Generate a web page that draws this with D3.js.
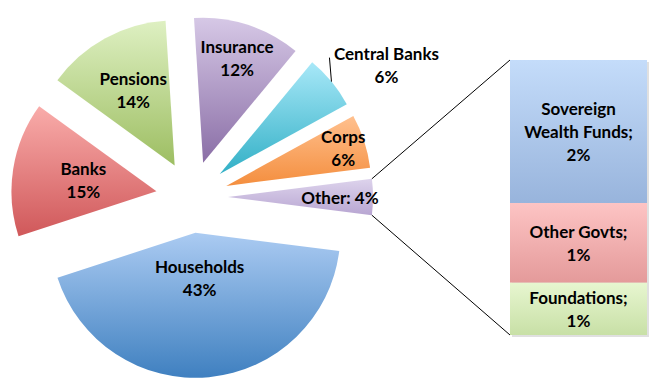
<!DOCTYPE html>
<html>
<head>
<meta charset="utf-8">
<script src="https://cdn.jsdelivr.net/npm/d3@7"></script>
<style>
  body { margin: 0; background: #fff; }
  text { font-family: Lato, "Open Sans", sans-serif; font-weight: bold; font-size: 17px; fill: #000; }
</style>
</head>
<body>
<div id="chart"></div>
<script>
const sectors = ["Households", "Banks", "Pensions", "Insurance", "Central Banks", "Corps", "Other"];
const shares = [43, 15, 14, 12, 6, 6, 4];
const otherParts = ["Sovereign Wealth Funds", "Other Govts", "Foundations"];
const otherShares = [2.08, 1.16, 0.76];

(function () {
  const w = 655, h = 390;
  const cx = 192, cy = 197, radius = 145, explode = 36;

  // [top, bottom] gradient colours
  const sliceColors = {
    "Households": ["#abcbf2", "#3f80c0"],
    "Banks": ["#f9acaa", "#d0585a"],
    "Pensions": ["#def0c2", "#9dbe62"],
    "Insurance": ["#d6c8e6", "#8a6ea6"],
    "Central Banks": ["#a8e8f8", "#32b0c6"],
    "Corps": ["#ffc08e", "#f48e3e"],
    "Other": ["#ddd3ec", "#b8a6d2"]
  };
  const barColors = {
    "Sovereign Wealth Funds": ["#c4dcfa", "#98b4dc"],
    "Other Govts": ["#fdc4c4", "#e49a9a"],
    "Foundations": ["#e7f6d0", "#c8e0a6"]
  };
  const labelDist = {
    "Households": 45, "Banks": 74, "Pensions": 86, "Insurance": 110, "Corps": 123, "Other": 112
  };
  const lineH = 23;

  const data = sectors.map((s, i) => ({ name: s, v: shares[i] }));
  const total = d3.sum(shares);
  const otherShare = shares[sectors.indexOf("Other")];
  const start = Math.PI / 2 + Math.PI * otherShare / total;

  const pie = d3.pie().sort(null).value(d => d.v)
    .startAngle(start).endAngle(start + 2 * Math.PI);
  const arc = d3.arc().innerRadius(0).outerRadius(radius);
  const arcs = pie(data);

  const svg = d3.select("#chart").append("svg")
    .attr("width", w).attr("height", h);

  const defs = svg.append("defs");
  function grad(id, c) {
    const g = defs.append("linearGradient").attr("id", id)
      .attr("x1", 0).attr("y1", 0).attr("x2", 0).attr("y2", 1);
    g.append("stop").attr("offset", "0%").attr("stop-color", c[0]);
    g.append("stop").attr("offset", "100%").attr("stop-color", c[1]);
  }
  sectors.forEach((s, i) => grad("g" + i, sliceColors[s]));
  otherParts.forEach((s, i) => grad("b" + i, barColors[s]));

  const polar = (a, r) => [Math.sin(a) * r, -Math.cos(a) * r];
  arcs.forEach(d => {
    d.mid = (d.startAngle + d.endAngle) / 2;
    const o = polar(d.mid, explode);
    d.ox = cx + o[0];
    d.oy = cy + o[1];
  });

  svg.selectAll("path.slice")
    .data(arcs)
    .enter()
    .append("path")
    .attr("class", "slice")
    .attr("transform", d => "translate(" + d.ox + "," + d.oy + ")")
    .attr("d", arc)
    .attr("fill", (d, i) => "url(#g" + i + ")");

  // bar of "Other"
  const x = d3.scaleBand().domain(["Other"]).range([510, 647]).padding(0);
  const y = d3.scaleLinear().domain([0, d3.sum(otherShares)]).range([335, 60]);
  const row = {};
  otherParts.forEach((p, i) => row[p] = otherShares[i]);
  const stack = d3.stack().keys(otherParts).order(d3.stackOrderReverse);
  const series = stack([row]);

  svg.append("rect")
    .attr("x", x("Other") + 2).attr("y", y(d3.sum(otherShares)) + 2)
    .attr("width", x.bandwidth()).attr("height", y(0) - y(d3.sum(otherShares)))
    .attr("fill", "#000").attr("opacity", 0.12);

  svg.selectAll("rect.seg")
    .data(series)
    .enter()
    .append("rect")
    .attr("class", "seg")
    .attr("x", x("Other"))
    .attr("y", d => y(d[0][1]))
    .attr("width", x.bandwidth())
    .attr("height", d => y(d[0][0]) - y(d[0][1]))
    .attr("fill", d => "url(#b" + otherParts.indexOf(d.key) + ")");

  // connector lines
  const oth = arcs[sectors.indexOf("Other")];
  const pTop = polar(oth.startAngle, radius), pBot = polar(oth.endAngle, radius);
  svg.append("line")
    .attr("x1", oth.ox + pTop[0]).attr("y1", oth.oy + pTop[1])
    .attr("x2", x("Other")).attr("y2", y(d3.sum(otherShares)))
    .attr("stroke", "#000").attr("stroke-width", 1);
  svg.append("line")
    .attr("x1", oth.ox + pBot[0]).attr("y1", oth.oy + pBot[1])
    .attr("x2", x("Other")).attr("y2", y(0))
    .attr("stroke", "#000").attr("stroke-width", 1);

  function multiline(g, lines, x, y) {
    const t = g.append("text").attr("text-anchor", "middle");
    lines.forEach((l, i) => {
      t.append("tspan").attr("x", x)
        .attr("y", y + (i - (lines.length - 1) / 2) * lineH)
        .attr("dominant-baseline", "central")
        .text(l);
    });
  }

  const labels = svg.append("g");
  arcs.forEach(d => {
    const pct = d.data.v + "%";
    if (d.data.name === "Central Banks") {
      const p = polar(d.mid, radius);
      const ex = d.ox + p[0], ey = d.oy + p[1];
      labels.append("line")
        .attr("x1", ex).attr("y1", ey).attr("x2", ex - 2).attr("y2", ey - 24)
        .attr("stroke", "#000").attr("stroke-width", 1);
      multiline(labels, [d.data.name, pct], ex + 55, ey - 17);
    } else {
      const p = polar(d.mid, labelDist[d.data.name]);
      const lines = d.data.name === "Other" ? ["Other: " + pct] : [d.data.name, pct];
      multiline(labels, lines, d.ox + p[0], d.oy + p[1]);
    }
  });

  function wrap(str, max) {
    const words = str.split(" ");
    const out = [];
    let cur = "";
    words.forEach(wd => {
      const t = cur ? cur + " " + wd : wd;
      if (t.length > max && cur) { out.push(cur); cur = wd; } else cur = t;
    });
    out.push(cur);
    return out;
  }
  series.forEach(s => {
    const v = s[0][1] - s[0][0];
    const lines = wrap(s.key + ";", 13).concat([d3.format(".0f")(v) + "%"]);
    multiline(labels, lines, x("Other") + x.bandwidth() / 2, (y(s[0][0]) + y(s[0][1])) / 2);
  });
})();
</script>
</body>
</html>
